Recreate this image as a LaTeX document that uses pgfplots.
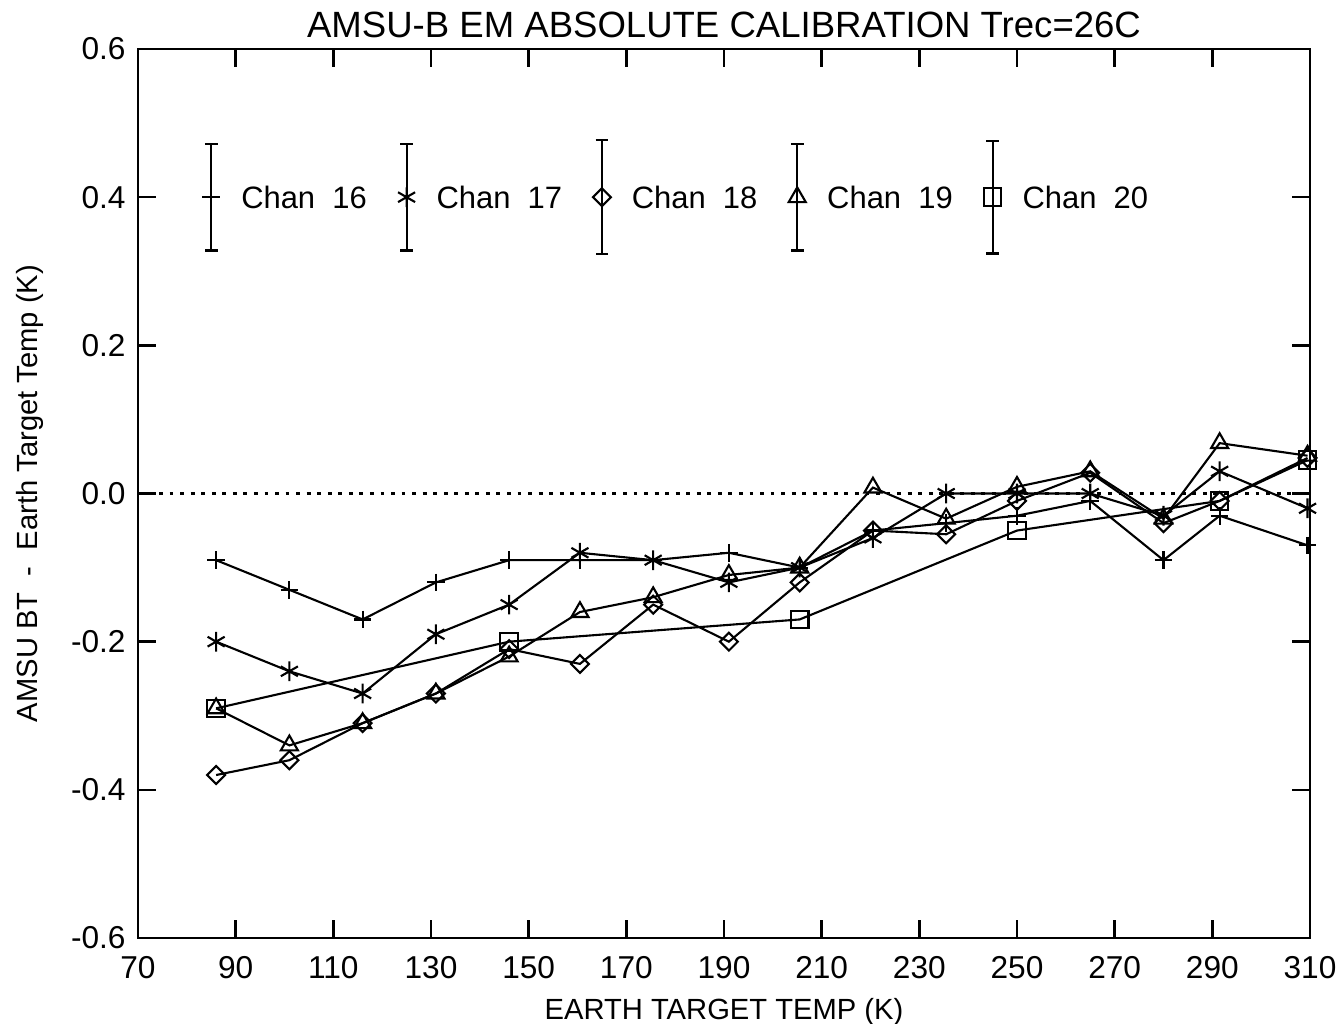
\documentclass[border=0pt]{standalone}
\usepackage{fontspec}
\setmainfont{Liberation Sans}
\usepackage{pgfplots}
\pgfplotsset{compat=1.18}
\begin{document}
\begin{tikzpicture}
\path[use as bounding box] (-1.38cm,-0.86cm) rectangle (12.00cm,9.38cm);
\begin{axis}[
  at={(0,0)}, anchor=south west,
  scale only axis, width=11.72cm, height=8.89cm,
  xmin=70, xmax=310, ymin=-0.6, ymax=0.6,
  xtick={70,90,...,310},
  ytick={-0.6,-0.4,-0.2,0,0.2,0.4,0.6},
  tick align=inside, major tick length=1.8mm,
  tick style={line width=0.7pt, black},
  axis line style={line width=0.8pt},
  /pgf/number format/assume math mode=true,
  yticklabel style={/pgf/number format/.cd, fixed, fixed zerofill, precision=1},
  ticklabel style={font=\fontsize{9}{10}\selectfont},
  xticklabel style={yshift=-0.6mm},
  every axis plot/.append style={black, line width=0.6pt},
  mark options={solid, line width=0.6pt},
  legbar/.style={only marks,
    error bars/y dir=both, error bars/y explicit,
    error bars/error bar style={line width=0.6pt, solid},
    error bars/error mark options={rotate=90, mark size=1.8pt, line width=0.6pt}},
]
% zero reference
\addplot[dotted, line width=0.7pt, dash pattern=on 1.1pt off 1.9pt] coordinates {(70,0) (310,0)};

% Chan 16
\addplot[mark=+, mark size=2.5pt] coordinates {
 (86,-0.09) (101,-0.13) (116,-0.17) (131,-0.12) (146,-0.09) (160.5,-0.09)
 (175.5,-0.09) (191,-0.08) (205.5,-0.10) (220.5,-0.05) (235.5,-0.04) (250,-0.03)
 (265,-0.01) (280,-0.09) (291.5,-0.03) (309.5,-0.07)};
% Chan 17
\addplot[mark=asterisk, mark size=2.8pt] coordinates {
 (86,-0.20) (101,-0.24) (116,-0.27) (131,-0.19) (146,-0.15) (160.5,-0.08)
 (175.5,-0.09) (191,-0.12) (205.5,-0.10) (220.5,-0.06) (235.5,0.00) (250,0.00)
 (265,0.00) (280,-0.03) (291.5,0.03) (309.5,-0.02)};
% Chan 18
\addplot[mark=square, mark size=1.8pt, mark options={rotate=45}] coordinates {
 (86,-0.38) (101,-0.36) (116,-0.31) (131,-0.27) (146,-0.21) (160.5,-0.23)
 (175.5,-0.15) (191,-0.20) (205.5,-0.12) (220.5,-0.05) (235.5,-0.055) (250,-0.01)
 (265,0.028) (280,-0.04) (291.5,-0.01) (309.5,0.048)};
% Chan 19
\addplot[mark=triangle, mark size=2.8pt] coordinates {
 (86,-0.29) (101,-0.34) (116,-0.31) (131,-0.27) (146,-0.22) (160.5,-0.16)
 (175.5,-0.14) (191,-0.11) (205.5,-0.10) (220.5,0.008) (235.5,-0.034) (250,0.009)
 (265,0.03) (280,-0.034) (291.5,0.068) (309.5,0.051)};
% Chan 20
\addplot[mark=square, mark size=2.5pt] coordinates {
 (86,-0.29) (146,-0.20) (205.5,-0.17) (250,-0.05) (291.5,-0.01) (309.5,0.045)};

% legend with error bars
\addplot[legbar, mark=+, mark size=2.5pt] coordinates {(85,0.4) +- (0,0.072)};
\addplot[legbar, mark=asterisk, mark size=2.8pt] coordinates {(125,0.4) +- (0,0.072)};
\addplot[legbar, mark=square, mark size=1.8pt, mark options={rotate=45}] coordinates {(165,0.4) +- (0,0.077)};
\addplot[legbar, mark=triangle, mark size=2.8pt] coordinates {(205,0.4) +- (0,0.072)};
\addplot[legbar, mark=square, mark size=2.5pt] coordinates {(245,0.4) +- (0,0.076)};

\begin{scope}[every node/.style={anchor=west, font=\fontsize{8.8}{11}\selectfont, inner sep=0pt}]
\node at (axis cs:91,0.4) {Chan\ \ 16};
\node at (axis cs:131,0.4) {Chan\ \ 17};
\node at (axis cs:171,0.4) {Chan\ \ 18};
\node at (axis cs:211,0.4) {Chan\ \ 19};
\node at (axis cs:251,0.4) {Chan\ \ 20};
\end{scope}
\end{axis}
% title and axis labels
\node[anchor=base, font=\fontsize{10.4}{12}\selectfont] at (5.86cm,9.00cm)
  {AMSU-B EM ABSOLUTE CALIBRATION Trec=26C};
\node[anchor=base, font=\fontsize{8.3}{10}\selectfont] at (5.86cm,-0.82cm)
  {EARTH TARGET TEMP (K)};
\node[rotate=90, anchor=center, font=\fontsize{8.3}{10}\selectfont] at (-1.08cm,4.445cm)
  {AMSU BT \ - \ Earth Target Temp (K)};
\end{tikzpicture}
\end{document}
